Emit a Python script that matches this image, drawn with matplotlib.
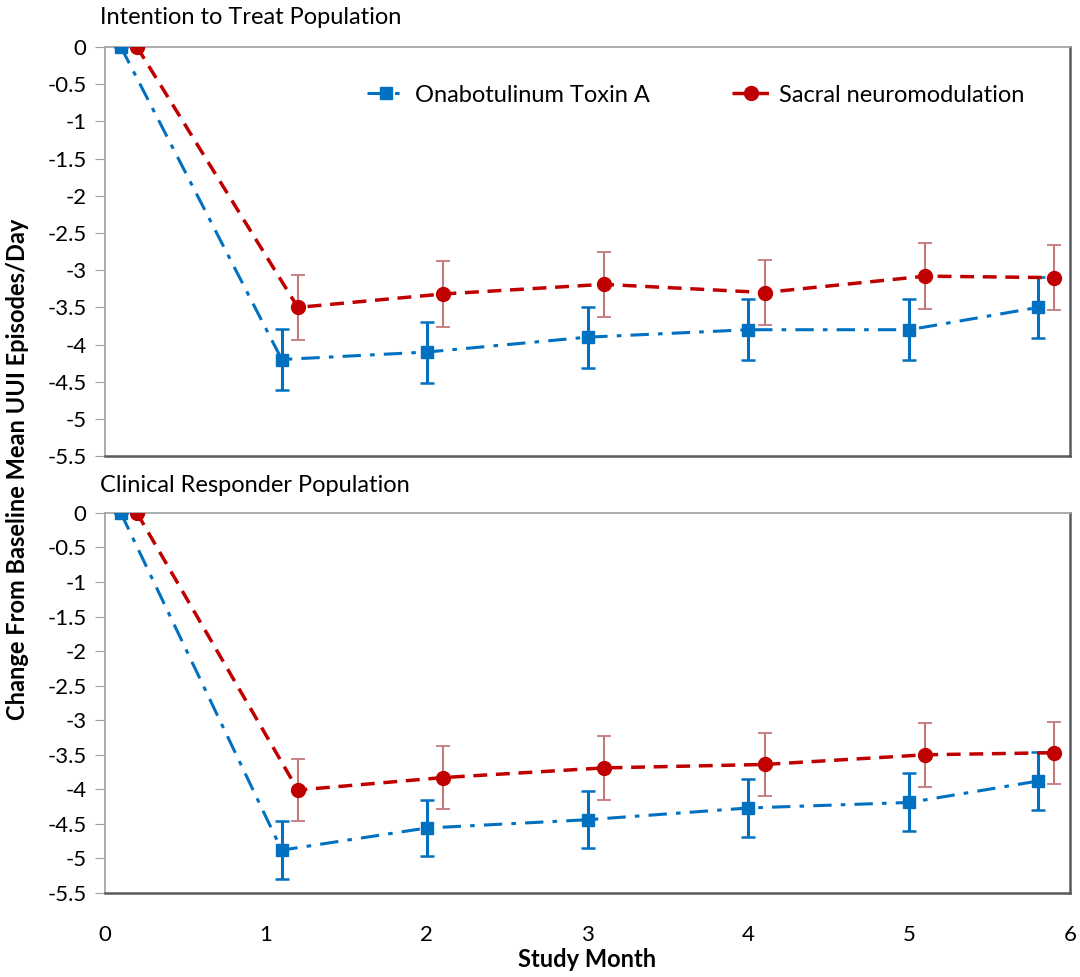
import matplotlib.pyplot as plt

# study month positions (offset so the two series don't overlap)
botox_x = [0.1, 1.1, 2.0, 3.0, 4.0, 5.0, 5.8]
snm_x = [0.2, 1.2, 2.1, 3.1, 4.1, 5.1, 5.9]

# intention to treat population
itt_botox = [0, -4.2, -4.1, -3.9, -3.8, -3.8, -3.5]
itt_botox_err = [0, 0.41, 0.41, 0.41, 0.41, 0.41, 0.41]
itt_snm = [0, -3.5, -3.32, -3.19, -3.3, -3.08, -3.1]
itt_snm_err = [0, 0.44, 0.44, 0.44, 0.44, 0.44, 0.44]

# clinical responder population
cr_botox = [0, -4.88, -4.56, -4.44, -4.27, -4.19, -3.88]
cr_botox_err = [0, 0.42, 0.41, 0.41, 0.42, 0.42, 0.42]
cr_snm = [0, -4.01, -3.83, -3.69, -3.64, -3.5, -3.47]
cr_snm_err = [0, 0.45, 0.45, 0.46, 0.45, 0.46, 0.45]

y_ticks = [0, -0.5, -1, -1.5, -2, -2.5, -3, -3.5, -4, -4.5, -5, -5.5]
x_ticks = [0, 1, 2, 3, 4, 5, 6]

BLUE = '#0070c0'
RED = '#c00000'
RED_ERR = '#c47a7a'

plt.rcParams['font.family'] = ['Lato', 'DejaVu Sans']

fig = plt.figure(figsize=(10.8, 9.77), dpi=100)
ax_top = fig.add_axes([0.097, 0.533, 0.894, 0.419])
ax_bot = fig.add_axes([0.097, 0.086, 0.894, 0.389])


def draw_panel(ax, botox, botox_err, snm, snm_err, title):
    ax.errorbar(botox_x, botox, yerr=botox_err, color=BLUE, ecolor=BLUE,
                elinewidth=2.2, capsize=5, capthick=1.8, linestyle=(0, (6, 3, 1.5, 3)),
                linewidth=2.2, marker='s', markersize=9,
                label='Onabotulinum Toxin A', zorder=3)
    ax.errorbar(snm_x, snm, yerr=snm_err, color=RED, ecolor=RED_ERR,
                elinewidth=1.5, capsize=5, capthick=1.3, linestyle=(0, (4, 2.5)),
                linewidth=2.5, marker='o', markersize=10,
                label='Sacral neuromodulation', zorder=3)
    ax.set_xlim(0, 6)
    ax.set_ylim(-5.5, 0)
    ax.set_yticks(y_ticks)
    ax.set_yticklabels([f'{t:g}' for t in y_ticks], fontsize=16)
    ax.tick_params(axis='y', direction='out', length=7, color='#a0a0a0', pad=6)
    for side in ['left', 'top']:
        ax.spines[side].set_color('#a6a6a6')
        ax.spines[side].set_linewidth(1.3)
    for side in ['right', 'bottom']:
        ax.spines[side].set_color('#595959')
        ax.spines[side].set_linewidth(1.8)
    ax.text(-0.005, 1.045, title, transform=ax.transAxes, fontsize=17,
            ha='left', va='bottom')


draw_panel(ax_top, itt_botox, itt_botox_err, itt_snm, itt_snm_err,
           'Intention to Treat Population')
draw_panel(ax_bot, cr_botox, cr_botox_err, cr_snm, cr_snm_err,
           'Clinical Responder Population')

ax_top.set_xticks([])
ax_bot.set_xticks(x_ticks)
ax_bot.set_xticklabels([str(t) for t in x_ticks], fontsize=16)
ax_bot.tick_params(axis='x', length=0, pad=23)
ax_bot.set_xlabel('Study Month', fontsize=17, fontweight='bold', labelpad=2)

handles, labels = ax_top.get_legend_handles_labels()
handles = [h[0] for h in handles]
ax_top.legend(handles, labels, loc='upper left', bbox_to_anchor=(0.25, 0.96),
              ncol=2, frameon=False, fontsize=17, handlelength=1.6,
              columnspacing=3.5, handletextpad=0.4)

fig.text(0.016, 0.52, 'Change From Baseline Mean UUI Episodes/Day', rotation=90,
         fontsize=17, fontweight='bold', ha='center', va='center')

fig.savefig('out.png', dpi=100)
